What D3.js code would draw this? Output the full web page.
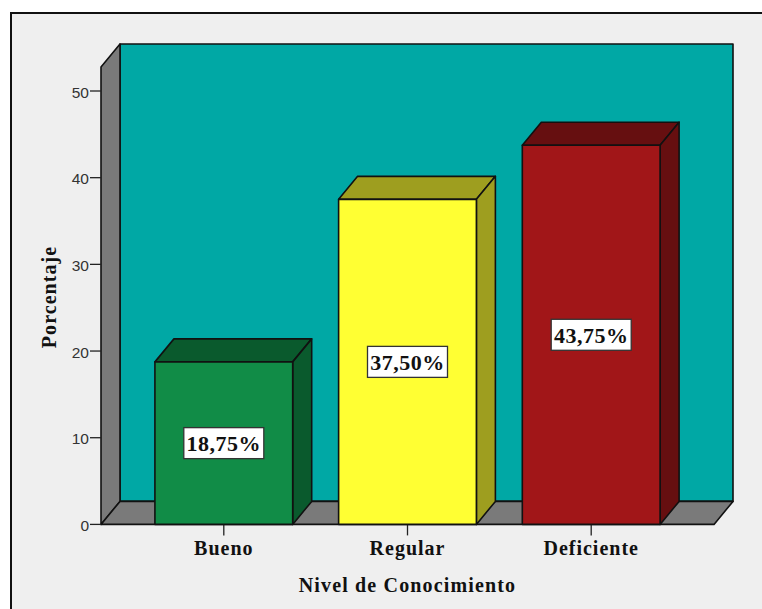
<!DOCTYPE html>
<html>
<head>
<meta charset="utf-8">
<script src="https://cdn.jsdelivr.net/npm/d3@7"></script>
<style>
  html, body { margin: 0; padding: 0; background: #fff; }
  svg { display: block; }
  .serif { font-family: "Liberation Serif", serif; font-weight: bold; fill: #111; }
</style>
</head>
<body>
<svg id="chart" width="762" height="609"></svg>
<script>
const categories = ["Bueno", "Regular", "Deficiente"];
const values = [18.75, 37.5, 43.75];
const valueLabels = ["18,75%", "37,50%", "43,75%"];
const frontColors = ["#118c47", "#ffff33", "#a11618"];
const sideColors = ["#0a5a2d", "#9e9e1f", "#660f10"];
const yTicks = [0, 10, 20, 30, 40, 50];

const svg = d3.select("#chart");
const depth = { x: 19, y: -23 };
const ink = "#111";

const x = d3.scaleBand().domain(categories).range([101, 714])
  .paddingInner(0.25).paddingOuter(0.2935);
const y = d3.scaleLinear().domain([0, 50]).range([524.4, 91]);
const yTop = 67; // front edge of the wall's top, above the 50 tick

const pts = a => a.map(p => p.join(",")).join(" ");
const poly = (points, fill) => svg.append("polygon")
  .attr("points", pts(points)).attr("fill", fill)
  .attr("stroke", ink).attr("stroke-width", 1.6).attr("stroke-linejoin", "round");

// Chart panel with its heavy top and left rule
svg.append("rect").attr("x", 11).attr("y", 13).attr("width", 751).attr("height", 596).attr("fill", "#efefef");
svg.append("path").attr("d", "M11,609V13H762").attr("fill", "none").attr("stroke", "#111").attr("stroke-width", 2);

// Back wall, side wall and floor of the 3D box
const [x0, x1] = x.range();
const y0 = y(0);
poly([[x0 + depth.x, yTop + depth.y], [x1 + depth.x, yTop + depth.y], [x1 + depth.x, y0 + depth.y], [x0 + depth.x, y0 + depth.y]], "#00a8a5");
poly([[x0, yTop], [x0 + depth.x, yTop + depth.y], [x0 + depth.x, y0 + depth.y], [x0, y0]], "#7a7a7a");
poly([[x0, y0], [x0 + depth.x, y0 + depth.y], [x1 + depth.x, y0 + depth.y], [x1, y0]], "#7a7a7a");

// Value axis
const yAxis = svg.append("g").attr("transform", `translate(${x0},0)`)
  .call(d3.axisLeft(y).offset(0).tickValues(yTicks).tickSize(11).tickPadding(1).tickFormat(d3.format("d")));
yAxis.select(".domain").remove();
yAxis.selectAll("line").attr("stroke", "#222").attr("stroke-width", 1.3);
yAxis.selectAll("text").attr("font-family", "Liberation Sans, sans-serif").attr("font-size", 15.5)
  .attr("fill", "#333").attr("dy", "0.42em");

// Category axis
const xAxis = svg.append("g").attr("transform", `translate(0,${y0})`)
  .call(d3.axisBottom(x).offset(0).tickSize(11).tickPadding(5));
xAxis.select(".domain").remove();
xAxis.selectAll("line").attr("stroke", "#222").attr("stroke-width", 1.3);
xAxis.selectAll("text").attr("class", "serif").attr("font-size", 20).attr("letter-spacing", 1);

// Bars: top and side faces first, then the front
categories.forEach((c, i) => {
  const l = x(c), r = l + x.bandwidth(), t = y(values[i]);
  poly([[l, t], [l + depth.x, t + depth.y], [r + depth.x, t + depth.y], [r, t]], sideColors[i]);
  poly([[r, t], [r + depth.x, t + depth.y], [r + depth.x, y0 + depth.y], [r, y0]], sideColors[i]);
  poly([[l, t], [r, t], [r, y0], [l, y0]], frontColors[i]);
});

// Value labels in white boxes at the middle of each bar
categories.forEach((c, i) => {
  const cx = x(c) + x.bandwidth() / 2, cy = (y(values[i]) + y0) / 2;
  svg.append("rect").attr("x", cx - 40).attr("y", cy - 15.5).attr("width", 80).attr("height", 31)
    .attr("fill", "#fff").attr("stroke", "#333").attr("stroke-width", 1.3);
  svg.append("text").attr("class", "serif").attr("x", cx).attr("y", cy + 8)
    .attr("text-anchor", "middle").attr("font-size", 22).attr("letter-spacing", 0.5).text(valueLabels[i]);
});

// Axis titles
svg.append("text").attr("class", "serif").attr("x", 407.5).attr("y", 591.5)
  .attr("text-anchor", "middle").attr("font-size", 20).attr("letter-spacing", 1.15).text("Nivel de Conocimiento");
svg.append("text").attr("class", "serif")
  .attr("transform", "translate(56,297) rotate(-90)")
  .attr("text-anchor", "middle").attr("font-size", 20).attr("letter-spacing", 1.05).text("Porcentaje");
</script>
</body>
</html>
